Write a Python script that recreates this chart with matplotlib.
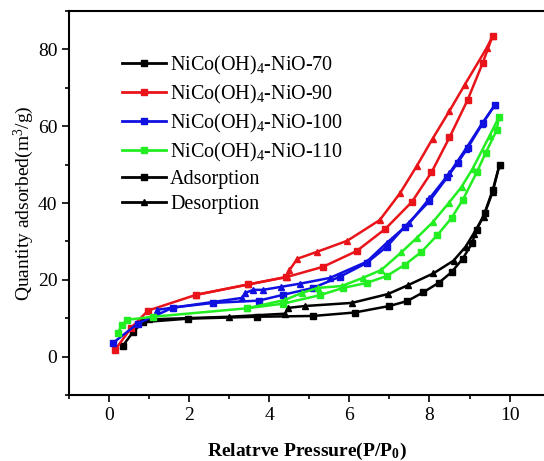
import numpy as np
import matplotlib
matplotlib.use('Agg')
import matplotlib.pyplot as plt
from matplotlib.lines import Line2D
from matplotlib.ticker import MultipleLocator

plt.rcParams['font.family'] = ['Liberation Serif', 'DejaVu Serif']
plt.rcParams['mathtext.fontset'] = 'custom'
plt.rcParams['mathtext.rm'] = 'Liberation Serif'
plt.rcParams['mathtext.it'] = 'Liberation Serif:italic'
plt.rcParams['mathtext.bf'] = 'Liberation Serif:bold'

# ---- data (P/P0 scaled x10) ----
labels = ['NiCo(OH)$_4$-NiO-70', 'NiCo(OH)$_4$-NiO-90',
          'NiCo(OH)$_4$-NiO-100', 'NiCo(OH)$_4$-NiO-110']
colors = ['black', '#e8141a', '#1010e0', '#22ee22']

# NiO-70
ads70_x = [0.35, 0.6, 0.85, 1.97, 3.69, 5.09, 6.13, 7.0, 7.45, 7.85, 8.24, 8.55,
           8.83, 9.06, 9.18, 9.38, 9.58, 9.75]
ads70_y = [2.9, 6.5, 9.0, 9.9, 10.4, 10.6, 11.5, 13.2, 14.5, 16.8, 19.3, 22.0,
           25.5, 29.5, 33.0, 37.5, 43.4, 50.0]
des70_x = [9.75, 9.58, 9.35, 9.1, 8.9, 8.6, 8.1, 7.46, 6.96, 6.06, 4.9, 4.46,
           4.4, 3.0, 1.0]
des70_y = [50.0, 43.0, 36.5, 32.0, 28.6, 25.0, 21.7, 18.6, 16.3, 14.0, 13.2, 12.7,
           11.2, 10.4, 9.7]

# NiO-90
ads90_x = [0.15, 0.55, 0.97, 2.17, 3.47, 4.42, 5.34, 6.18, 6.9, 7.56, 8.05, 8.5,
           8.95, 9.33, 9.58]
ads90_y = [1.8, 7.5, 12.0, 16.1, 18.8, 20.7, 23.4, 27.5, 33.3, 40.3, 48.0, 57.1,
           66.8, 76.5, 83.6]
des90_x = [9.58, 9.43, 8.88, 8.5, 8.08, 7.68, 7.26, 6.76, 5.95, 5.19, 4.7, 4.5,
           4.44, 3.47, 2.17]
des90_y = [83.6, 80.4, 70.8, 64.0, 56.8, 49.6, 42.5, 35.6, 30.2, 27.3, 25.5, 22.5,
           20.8, 18.8, 16.1]

# NiO-100
ads100_x = [0.1, 0.71, 1.6, 2.6, 3.74, 4.34, 5.09, 5.76, 6.43, 6.93, 7.38, 8.0,
            8.45, 8.7, 8.95, 9.33, 9.63]
ads100_y = [3.6, 8.6, 12.8, 14.0, 14.6, 16.1, 17.9, 20.8, 24.4, 28.6, 33.8, 40.5,
            46.8, 50.4, 54.3, 60.8, 65.5]
des100_x = [9.63, 9.3, 8.9, 8.5, 8.0, 7.5, 6.93, 6.43, 5.51, 4.76, 4.3, 3.84,
            3.6, 3.4, 3.32, 1.2]
des100_y = [65.5, 60.5, 54.0, 47.8, 41.2, 34.8, 29.6, 24.7, 20.5, 19.0, 18.2, 17.4,
            17.4, 16.6, 15.3, 12.2]

# NiO-110
ads110_x = [0.22, 0.32, 0.45, 1.1, 3.44, 4.34, 5.26, 5.84, 6.43, 6.93, 7.38, 7.8,
            8.2, 8.55, 8.83, 9.18, 9.4, 9.68, 9.73]
ads110_y = [6.2, 8.3, 9.6, 10.4, 12.6, 13.8, 16.0, 17.9, 19.2, 21.0, 23.9, 27.3,
            31.7, 36.1, 40.8, 48.0, 53.0, 59.0, 62.3]
des110_x = [9.73, 9.5, 9.08, 8.8, 8.48, 8.08, 7.68, 7.3, 6.8, 6.33, 5.81, 5.21,
            4.81, 4.4, 3.44]
des110_y = [62.3, 57.5, 49.0, 44.2, 40.0, 35.0, 30.9, 27.2, 22.6, 20.5, 18.4, 17.9,
            16.6, 14.8, 12.6]

ads_x = [ads70_x, ads90_x, ads100_x, ads110_x]
ads_y = [ads70_y, ads90_y, ads100_y, ads110_y]
des_x = [des70_x, des90_x, des100_x, des110_x]
des_y = [des70_y, des90_y, des100_y, des110_y]

fig = plt.figure(figsize=(5.44, 4.61), dpi=100)
ax = fig.add_axes([0.127, 0.143, 0.873, 0.833])

for c, ax_, ay_, dx_, dy_ in zip(colors, ads_x, ads_y, des_x, des_y):
    ax.plot(dx_, dy_, color=c, lw=1.8, marker='^', ms=5)
    ax.plot(ax_, ay_, color=c, lw=1.8, marker='s', ms=5)

ax.set_xlim(-1, 10.86)
ax.set_ylim(-10, 90)
ax.xaxis.set_major_locator(MultipleLocator(2))
ax.xaxis.set_minor_locator(MultipleLocator(1))
ax.yaxis.set_major_locator(MultipleLocator(20))
ax.yaxis.set_minor_locator(MultipleLocator(10))
ax.tick_params(which='major', direction='out', length=5, width=1.2, labelsize=14)
ax.tick_params(which='minor', direction='out', length=3, width=1.2)
ax.spines['right'].set_visible(False)
for s in ['left', 'bottom', 'top']:
    ax.spines[s].set_linewidth(1.5)

ax.set_xlabel(r'Relatrve Pressure(P/P$_\mathbf{0}$)', fontsize=14,
              fontweight='bold', labelpad=12)
ax.set_ylabel(r'Quantity adsorbed(m$^3$/g)', fontsize=14, labelpad=1)

handles = [Line2D([], [], color=c, lw=2, marker='s', ms=4) for c in colors]
handles += [Line2D([], [], color='black', lw=2, marker='s', ms=4),
            Line2D([], [], color='black', lw=2, marker='^', ms=4)]
leg_labels = labels + ['Adsorption', 'Desorption']
ax.legend(handles, leg_labels, loc='upper left', bbox_to_anchor=(0.09, 0.915),
          frameon=False, fontsize=14.5, handlelength=2.2, handletextpad=0.2,
          labelspacing=0.3, borderpad=0)

fig.savefig('out.png', dpi=100)
